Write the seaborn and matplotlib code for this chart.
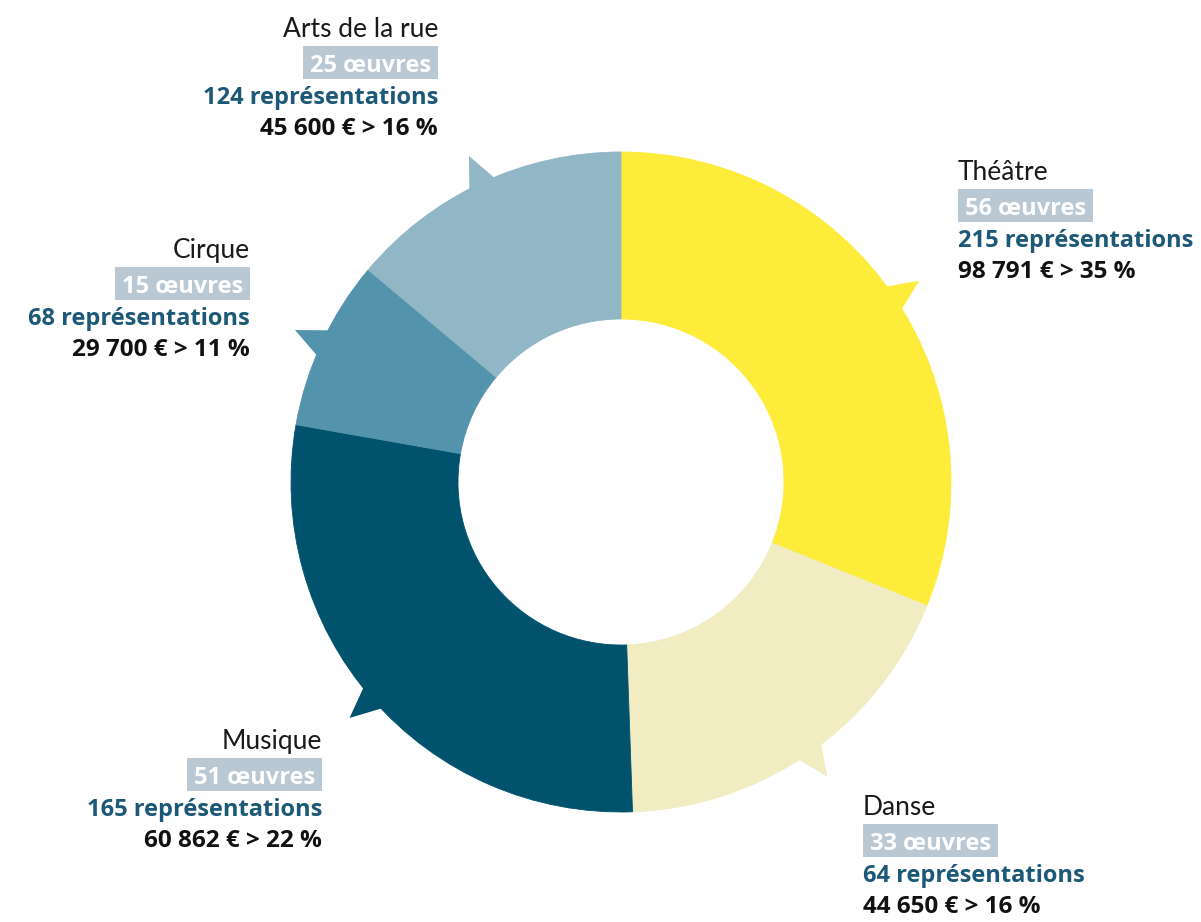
import numpy as np
import matplotlib
matplotlib.use("Agg")
import matplotlib.pyplot as plt
from matplotlib.patches import Polygon, Rectangle
import seaborn as sns

# data (pie sized by number of works)
categories = ["Théâtre", "Danse", "Musique", "Cirque", "Arts de la rue"]
oeuvres = [56, 33, 51, 15, 25]
representations = [215, 64, 165, 68, 124]
montants = [98791, 44650, 60862, 29700, 45600]
parts = [35, 16, 22, 11, 16]

colors = sns.color_palette(["#fdec3a", "#f1ecc2", "#01536d", "#5393ac", "#91b6c5"])

# layout in pixels of the 1201x922 picture
W, H = 1201, 922
CX, CY, R = 621, 482, 330

# label anchor: x, baseline of first line, alignment
label_pos = {
    "Théâtre": (958, 180, "left"),
    "Danse": (863, 815, "left"),
    "Musique": (322, 749, "right"),
    "Cirque": (250, 258, "right"),
    "Arts de la rue": (438, 37, "right"),
}

sns.set_theme(style="white")
plt.rcParams["font.family"] = ["Lato", "DejaVu Sans"]
bold_font = ["Open Sans", "DejaVu Sans"]


def to_data(xp, yp):
    return (xp - CX) / R, (CY - yp) / R


def fmt(v):
    return "{:,}".format(v).replace(",", " ")


fig = plt.figure(figsize=(W / 100, H / 100), dpi=100)
ax = fig.add_axes([0, 0, 1, 1])

wedges, _ = ax.pie(oeuvres, colors=colors, startangle=90, counterclock=False,
                   radius=1, wedgeprops=dict(width=0.506, linewidth=0.6))

# small triangular pointers on the outer edge of each wedge
half = np.radians(2.65)
for w in wedges:
    w.set_edgecolor(w.get_facecolor())
    mid = np.radians((w.theta1 + w.theta2) / 2)
    pts = [(0.99 * np.cos(mid - half), 0.99 * np.sin(mid - half)),
           (1.09 * np.cos(mid), 1.09 * np.sin(mid)),
           (0.99 * np.cos(mid + half), 0.99 * np.sin(mid + half))]
    ax.add_patch(Polygon(pts, closed=True, facecolor=w.get_facecolor(),
                         edgecolor="none", zorder=w.get_zorder()))

ax.set_xlim(-CX / R, (W - CX) / R)
ax.set_ylim(-(H - CY) / R, CY / R)
ax.set_aspect("auto")
ax.axis("off")

box_texts = []
for cat, n, rep, m, p in zip(categories, oeuvres, representations, montants, parts):
    xp, b, ha = label_pos[cat]
    ax.text(*to_data(xp, b), cat, ha=ha, va="baseline", fontsize=19, color="#1a1a1a")
    shift = 7 if ha == "left" else -7
    t = ax.text(*to_data(xp + shift, b + 35), f"{n} œuvres", ha=ha, va="baseline",
                fontsize=17, fontweight="bold", family=bold_font, color="white", zorder=5)
    box_texts.append((t, b))
    ax.text(*to_data(xp, b + 67), f"{rep} représentations", ha=ha, va="baseline",
            fontsize=17, fontweight="bold", family=bold_font, color="#1c5877")
    ax.text(*to_data(xp, b + 98), f"{fmt(m)} € > {p} %", ha=ha,
            va="baseline", fontsize=17.5, fontweight="bold", family=bold_font,
            color="#111111")

# grey boxes behind the number of works
fig.canvas.draw()
renderer = fig.canvas.get_renderer()
for t, b in box_texts:
    bb = t.get_window_extent(renderer)
    x0 = bb.x0 - 7
    x1 = bb.x1 + 7
    dx0 = (x0 - CX) / R
    dx1 = (x1 - CX) / R
    _, top = to_data(0, b + 9)
    _, bot = to_data(0, b + 42)
    ax.add_patch(Rectangle((dx0, bot), dx1 - dx0, top - bot, facecolor="#b9c8d3",
                           edgecolor="none", zorder=4))

fig.savefig("out.png", dpi=100)
